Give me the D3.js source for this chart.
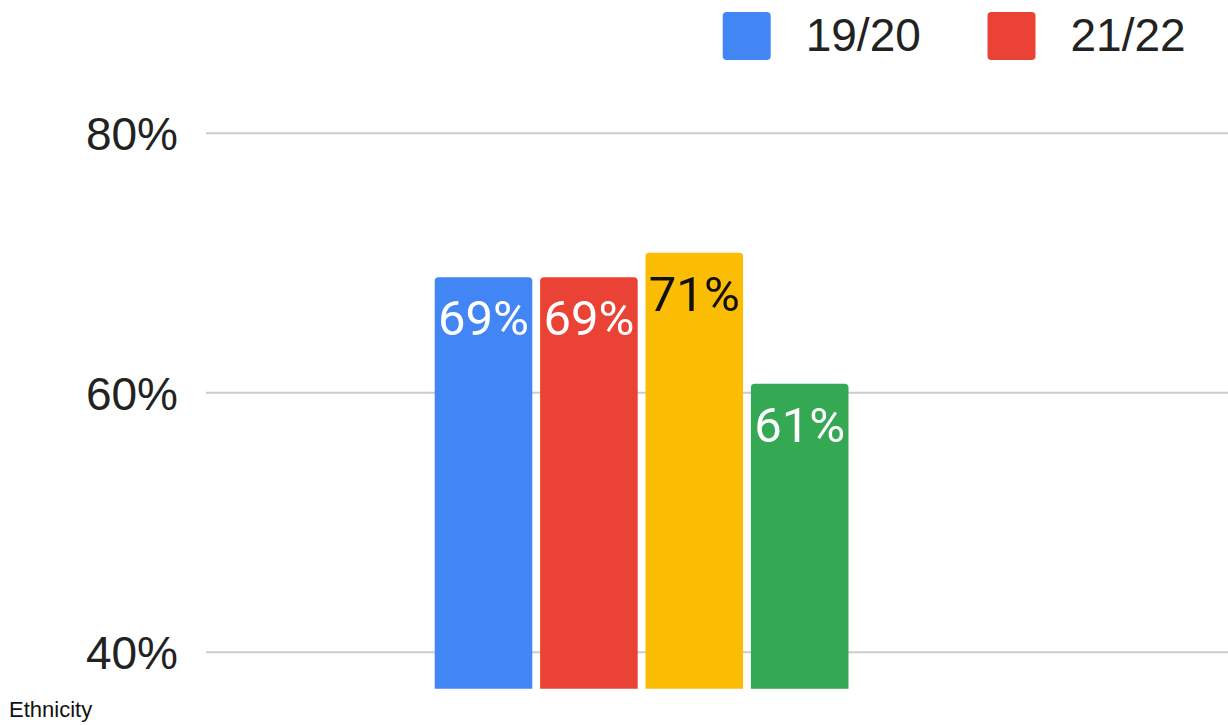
<!DOCTYPE html>
<html>
<head>
<meta charset="utf-8">
<script src="https://cdn.jsdelivr.net/npm/d3@7"></script>
<style>
  body { margin: 0; background: #fff; }
  svg { display: block; }
</style>
</head>
<body>
<div id="chart"></div>
<script>
// Data
const series = ['19/20', '21/22', '22/23', '23/24'];
const values = [68.9, 68.9, 70.8, 60.7];
const valueLabels = ['69%', '69%', '71%', '61%'];
const colors = ['#4285F4', '#EA4335', '#FBBC04', '#34A853'];
const labelColors = ['#fff', '#fff', '#111', '#fff'];
const legendSeries = ['19/20', '21/22'];
const yTicks = [40, 60, 80];
const categoryLabel = 'Ethnicity';

const width = 1228;
const height = 725;

const svg = d3.select('#chart').append('svg')
  .attr('width', width)
  .attr('height', height);

// scales
const x = d3.scaleBand()
  .domain(series)
  .range([434.7, 848.5])
  .paddingInner(0.074)
  .paddingOuter(0);

const y = d3.scaleLinear()
  .domain([40, 80])
  .range([652.3, 133.3]);

const plotBottom = 688.7;

// gridlines
svg.append('g')
  .selectAll('line')
  .data(yTicks)
  .join('line')
    .attr('x1', 206)
    .attr('x2', width)
    .attr('y1', d => y(d))
    .attr('y2', d => y(d))
    .attr('stroke', '#cccccc')
    .attr('stroke-width', 2);

// y axis labels
const yAxis = d3.axisLeft(y)
  .tickValues(yTicks)
  .tickFormat(d => d + '%')
  .tickSize(0)
  .tickPadding(0);

svg.append('g')
  .attr('transform', 'translate(178,0)')
  .call(yAxis)
  .call(g => g.select('.domain').remove())
  .call(g => g.selectAll('text')
    .attr('font-family', 'Liberation Sans, Arial, sans-serif')
    .attr('font-size', 46)
    .attr('fill', '#222')
    .attr('dy', '0.36em'));

// bars, clipped at the bottom of the plot
svg.append('clipPath')
  .attr('id', 'plot-clip')
  .append('rect')
    .attr('x', 0)
    .attr('y', 0)
    .attr('width', width)
    .attr('height', plotBottom);

const bars = svg.append('g').attr('clip-path', 'url(#plot-clip)');

bars.selectAll('rect')
  .data(series)
  .join('rect')
    .attr('x', d => x(d))
    .attr('y', (d, i) => y(values[i]))
    .attr('width', x.bandwidth())
    .attr('height', (d, i) => plotBottom + 10 - y(values[i]))
    .attr('rx', 4)
    .attr('fill', (d, i) => colors[i]);

// value labels inside bars
svg.append('g')
  .selectAll('text')
  .data(series)
  .join('text')
    .attr('x', d => x(d) + x.bandwidth() / 2)
    .attr('y', (d, i) => y(values[i]) + 58)
    .attr('text-anchor', 'middle')
    .attr('font-family', 'Roboto, sans-serif')
    .attr('font-size', 49)
    .attr('fill', (d, i) => labelColors[i])
    .text((d, i) => valueLabels[i]);

// legend
const legendX = [722.7, 987.5];
const legend = svg.append('g');

legend.selectAll('rect')
  .data(legendSeries)
  .join('rect')
    .attr('x', (d, i) => legendX[i])
    .attr('y', 12)
    .attr('width', 48)
    .attr('height', 48)
    .attr('rx', 4)
    .attr('fill', (d, i) => colors[i]);

legend.selectAll('text')
  .data(legendSeries)
  .join('text')
    .attr('x', (d, i) => legendX[i] + 83)
    .attr('y', 51)
    .attr('font-family', 'Liberation Sans, Arial, sans-serif')
    .attr('font-size', 46)
    .attr('fill', '#222')
    .text(d => d);

// category label
svg.append('text')
  .attr('x', 9)
  .attr('y', 717)
  .attr('font-family', 'Liberation Sans, Arial, sans-serif')
  .attr('font-size', 22)
  .attr('fill', '#111')
  .text(categoryLabel);
</script>
</body>
</html>
